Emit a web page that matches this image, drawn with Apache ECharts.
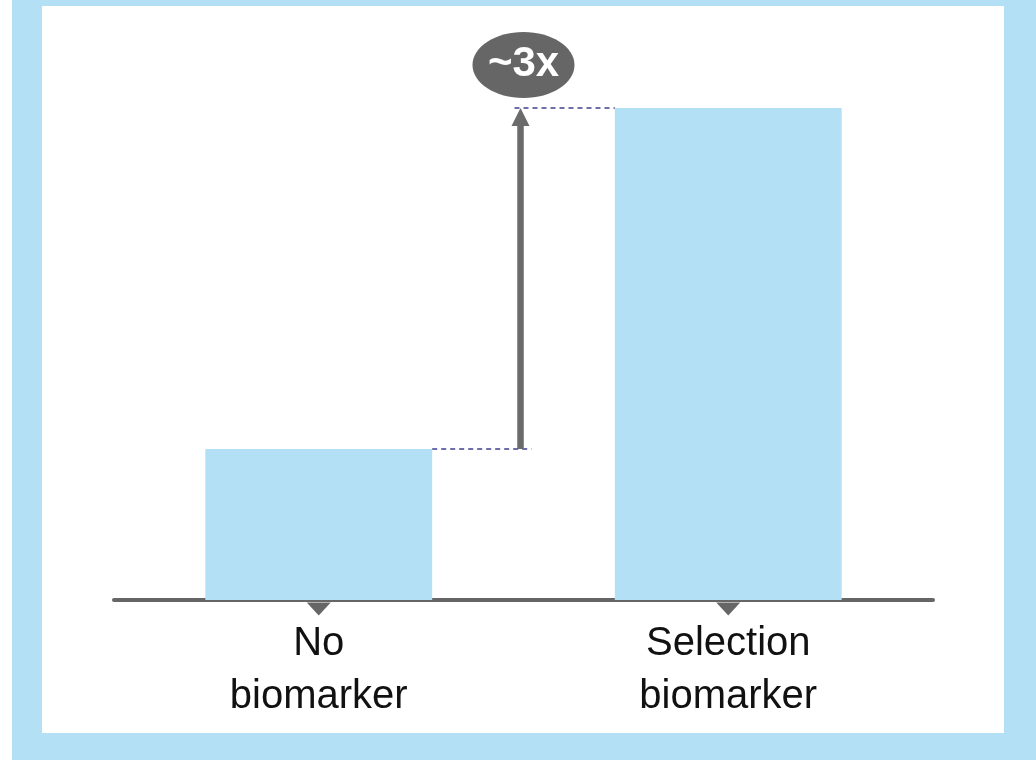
<!DOCTYPE html>
<html>
<head>
<meta charset="utf-8">
<script src="https://cdn.jsdelivr.net/npm/echarts@6/dist/echarts.min.js"></script>
<style>
  html, body { margin: 0; padding: 0; background: #ffffff; }
  #frame { position: absolute; left: 12px; top: 0; width: 1024px; height: 760px; background: #b3e0f5; }
  #inner { position: absolute; left: 42px; top: 6px; width: 962px; height: 727px; background: #ffffff; }
  #chart { position: absolute; left: 0; top: 0; width: 1036px; height: 760px; }
</style>
</head>
<body>
<div id="frame"></div>
<div id="inner"></div>
<div id="chart"></div>
<script>
const categories = ['No\nbiomarker', 'Selection\nbiomarker'];
const values = [1.0, 3.26];
const foldLabel = '~3x';

const FONT = '"Liberation Sans", Arial, Helvetica, sans-serif';
const BAR_FRAC = 0.554;

const chart = echarts.init(document.getElementById('chart'), null, { renderer: 'canvas' });

const option = {
  animation: false,
  backgroundColor: 'transparent',
  grid: { left: 114, right: 103, top: 108, bottom: 160 },
  xAxis: {
    type: 'category',
    data: categories,
    axisLine: { show: true, lineStyle: { color: '#666666', width: 4 } },
    axisTick: { show: false },
    axisLabel: {
      fontSize: 40,
      lineHeight: 53,
      color: '#111111',
      fontFamily: FONT,
      margin: 17
    },
    splitLine: { show: false }
  },
  yAxis: {
    type: 'value',
    min: 0,
    max: values[1],
    show: false,
    splitLine: { show: false }
  },
  series: [
    {
      type: 'bar',
      data: values,
      barWidth: (BAR_FRAC * 100) + '%',
      itemStyle: { color: '#b3e0f5' },
      emphasis: { disabled: true },
      z: 1
    },
    {
      type: 'scatter',
      data: categories.map((c, i) => [i, 0]),
      symbol: 'triangle',
      symbolRotate: 180,
      symbolSize: [24, 13],
      symbolOffset: [0, 9],
      itemStyle: { color: '#666666', opacity: 1 },
      emphasis: { disabled: true },
      clip: false,
      z: 5
    }
  ]
};
chart.setOption(option);

const p1 = chart.convertToPixel({ seriesIndex: 0 }, [0, values[0]]);
const p2 = chart.convertToPixel({ seriesIndex: 0 }, [1, values[1]]);
const band = p2[0] - p1[0];
const half = band * BAR_FRAC / 2;
const ax = (p1[0] + p2[0]) / 2 - 3;
const dashStyle = { stroke: '#3f3f8f', lineWidth: 1.5, lineDash: [5, 4] };

chart.setOption({
  graphic: [
    { type: 'line', shape: { x1: p1[0] + half, y1: p1[1], x2: ax + 11, y2: p1[1] }, style: dashStyle, z: 10 },
    { type: 'line', shape: { x1: ax - 6, y1: p2[1], x2: p2[0] - half, y2: p2[1] }, style: dashStyle, z: 10 },
    { type: 'line', shape: { x1: ax, y1: p1[1], x2: ax, y2: p2[1] + 16 }, style: { stroke: '#6b6b6b', lineWidth: 6.5 }, z: 11 },
    { type: 'polygon', shape: { points: [[ax - 9, p2[1] + 18], [ax + 9, p2[1] + 18], [ax, p2[1]]] }, style: { fill: '#6b6b6b' }, z: 11 },
    { type: 'ellipse', shape: { cx: ax + 3, cy: p2[1] - 43, rx: 51, ry: 33 }, style: { fill: '#666666' }, z: 12 },
    { type: 'text', x: ax + 3, y: p2[1] - 44, style: { text: foldLabel, fill: '#ffffff', font: 'bold 42px ' + FONT, align: 'center', verticalAlign: 'middle' }, z: 13 }
  ]
});
</script>
</body>
</html>
